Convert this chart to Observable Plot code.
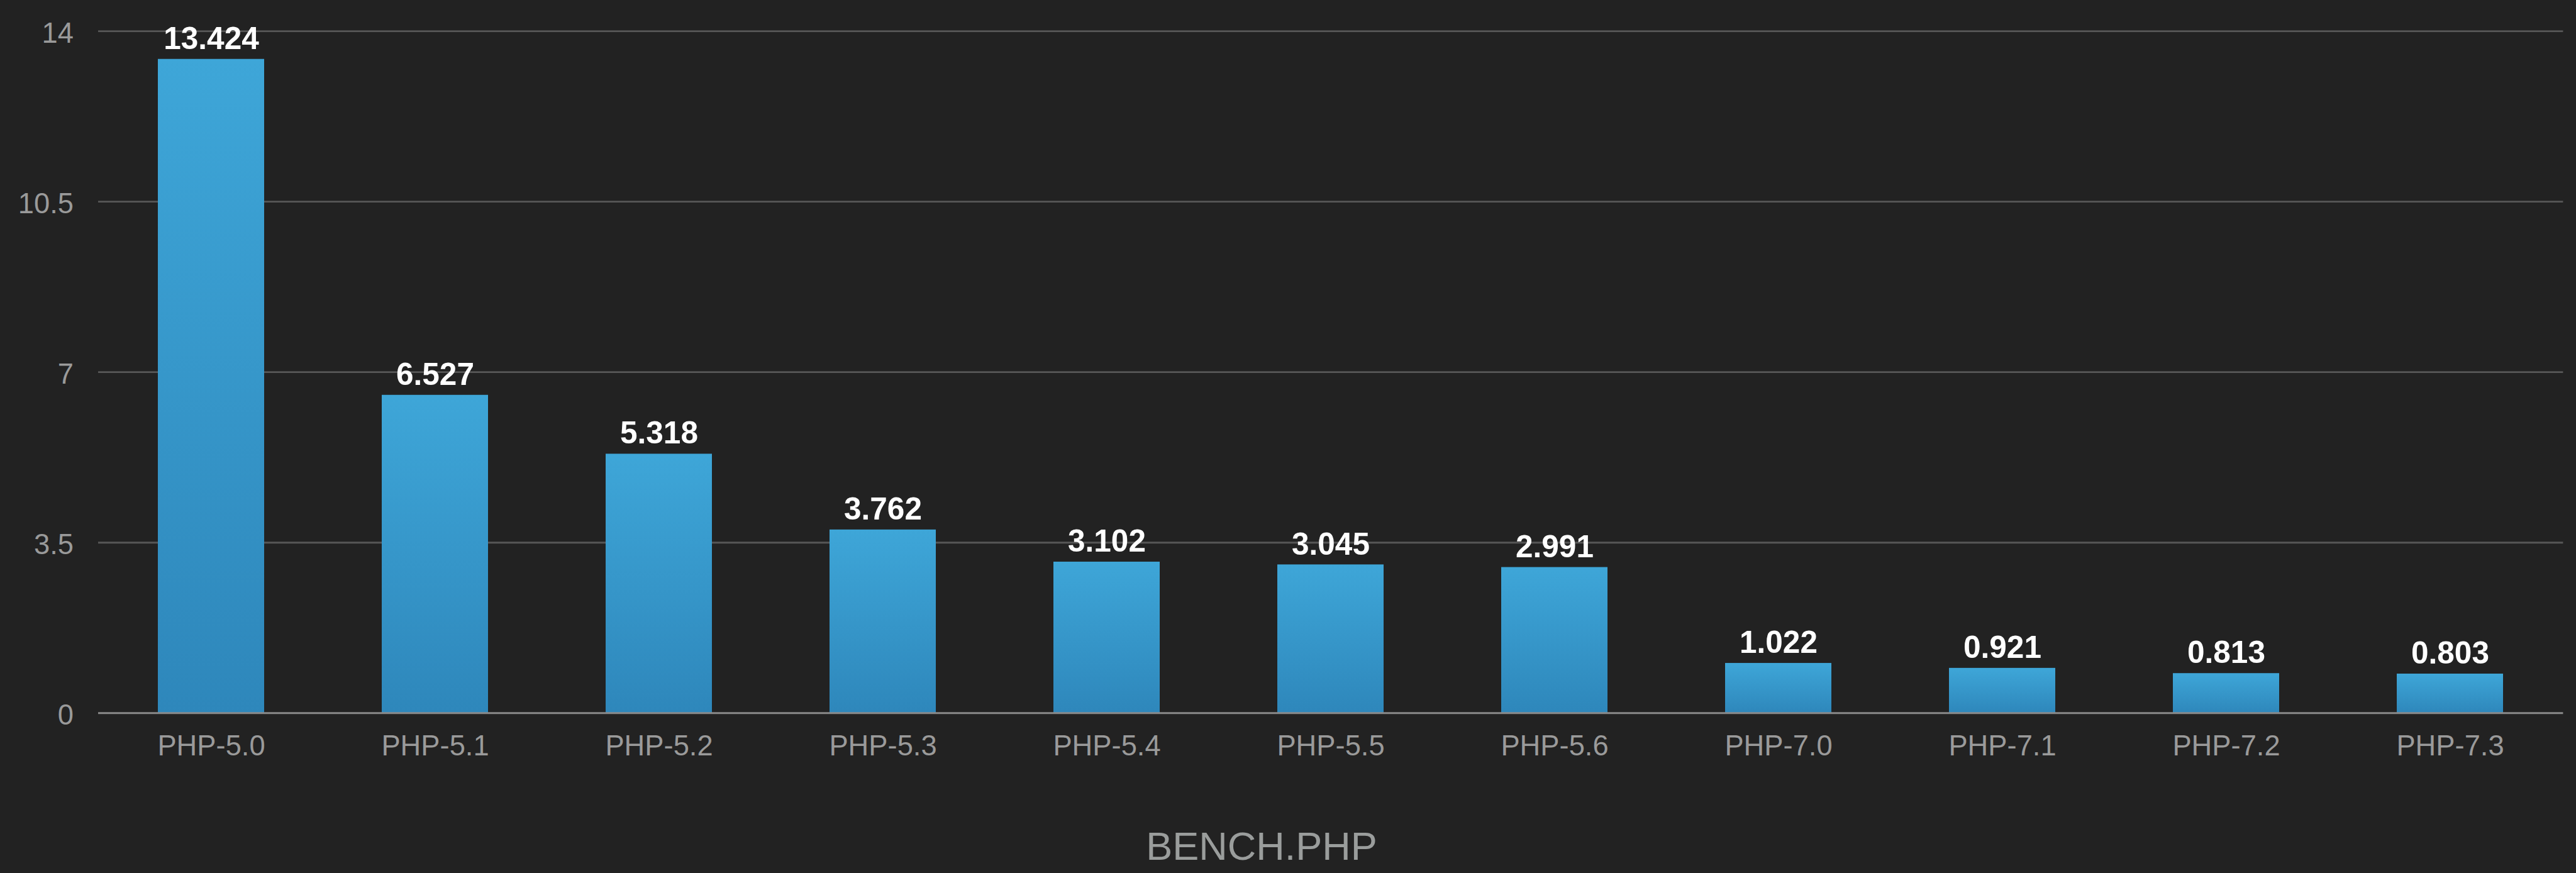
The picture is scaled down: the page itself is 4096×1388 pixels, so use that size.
<!DOCTYPE html>
<html>
<head>
<meta charset="utf-8">
<script src="https://cdn.jsdelivr.net/npm/d3@7"></script>
<script src="https://cdn.jsdelivr.net/npm/@observablehq/plot@0.6"></script>
<style>
  html, body { margin: 0; padding: 0; background: #222222; }
  #wrap { position: relative; width: 4096px; height: 1388px; overflow: hidden; background: #222222; }
  #chart svg { display: block; }
  #title {
    position: absolute; left: 2006px; top: 1314px; transform: translateX(-50%);
    font-family: "Liberation Sans", Arial, Helvetica, sans-serif; font-size: 63px; line-height: 1;
    color: #9a9d9c; white-space: nowrap;
  }
</style>
</head>
<body>
<div id="wrap">
  <div id="chart"></div>
  <div id="title"></div>
</div>
<script>
// ---- data ----
const versions = ["PHP-5.0", "PHP-5.1", "PHP-5.2", "PHP-5.3", "PHP-5.4", "PHP-5.5", "PHP-5.6", "PHP-7.0", "PHP-7.1", "PHP-7.2", "PHP-7.3"];
const times = [13.424, 6.527, 5.318, 3.762, 3.102, 3.045, 2.991, 1.022, 0.921, 0.813, 0.803];
const yTicks = [0, 3.5, 7, 10.5, 14];
const chartTitle = "BENCH.PHP";

const data = versions.map((v, i) => ({version: v, time: times[i]}));
const fmt = d3.format(".3f");

const W = 4096, H = 1230;
const y0 = 1133.2;

const svg = Plot.plot({
  width: W,
  height: H,
  marginTop: 49.1,
  marginBottom: H - y0,
  marginLeft: 156,
  marginRight: 20.6,
  style: {background: "#222222", fontFamily: '"Liberation Sans", Arial, Helvetica, sans-serif', overflow: "visible"},
  x: {domain: versions, paddingInner: 0.524, paddingOuter: 0.262, align: 0.5, label: null},
  y: {domain: [0, 14], label: null},
  marks: [
    Plot.ruleY(yTicks.filter(d => d > 0), {stroke: "#575757", strokeWidth: 2.9}),
    Plot.barY(data, {x: "version", y: "time", fill: "url(#barGrad)"}),
    Plot.ruleY([0], {stroke: "#8a8a8a", strokeWidth: 2.9}),
    Plot.text(data, {
      x: "version", y: "time", text: d => fmt(d.time),
      lineAnchor: "bottom", dy: -16.4,
      fill: "#ffffff", fontSize: 49.5, fontWeight: "bold"
    }),
    Plot.axisX({tickSize: 0, tickPadding: 35.5, fontSize: 45.3, color: "#9a9a9a", label: null}),
    Plot.axisY({ticks: yTicks, tickSize: 0, tickPadding: 39.5, fontSize: 45.3, color: "#9a9a9a", label: null, dy: 4, tickFormat: d => String(d)})
  ]
});

const defs = d3.select(svg).insert("defs", ":first-child");
const grad = defs.append("linearGradient")
  .attr("id", "barGrad").attr("x1", 0).attr("y1", 0).attr("x2", 0).attr("y2", 1);
grad.append("stop").attr("offset", "0%").attr("stop-color", "#3ea6d8");
grad.append("stop").attr("offset", "100%").attr("stop-color", "#2e87bb");

document.getElementById("chart").appendChild(svg);
document.getElementById("title").textContent = chartTitle;
</script>
</body>
</html>
